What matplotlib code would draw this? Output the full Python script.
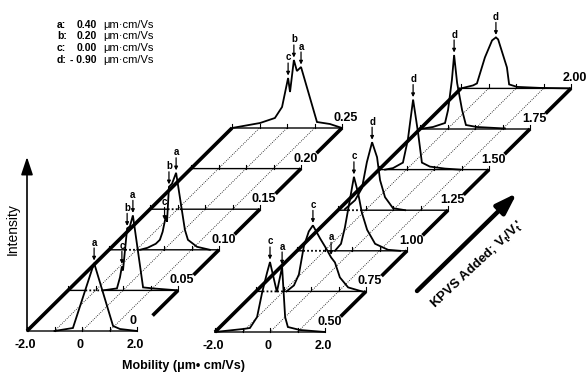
import numpy as np
import matplotlib
matplotlib.use("Agg")
import matplotlib.pyplot as plt
from matplotlib.patches import ArrowStyle

plt.rcParams['font.family'] = ['Liberation Sans', 'DejaVu Sans']
plt.rcParams['mathtext.fontset'] = 'custom'
plt.rcParams['mathtext.rm'] = 'Liberation Sans:bold'
plt.rcParams['mathtext.it'] = 'Liberation Sans:bold'
plt.rcParams['mathtext.bf'] = 'Liberation Sans:bold'

# ---------------- data ----------------
legend_ids = ["a:", "b:", "c:", "d:"]
legend_values = ["0.40", "0.20", "0.00", "- 0.90"]
legend_unit = "\u03bcm\u00b7cm/Vs"

tick_mobility = [-2.0, -1.0, 0.0, 1.0, 2.0]
label_mobility = [-2.0, 0.0, 2.0]
label_text = ["-2.0", "0", "2.0"]
grid_mobility = [-1.0, 0.0, 1.0]

left_ratios = ["0", "0.05", "0.10", "0.15", "0.20", "0.25"]
right_ratios = ["0.50", "0.75", "1.00", "1.25", "1.50", "1.75", "2.00"]

# electropherograms (mobility, intensity)
mob_000 = [-1.0, -0.33, 0.44, 1.13, 1.38, 2.0]
int_000 = [0, 3, 68, 5, 2, 0]
pk_000 = [("a", 0.44)]

mob_005 = [-0.73, -0.22, -0.11, -0.04, 0.00, 0.15, 0.25, 0.36, 0.73, 1.09, 2.0]
int_005 = [0, 2, 13, 24, 20, 62, 64, 75, 3, 2, 0]
pk_005 = [("c", -0.04), ("b", 0.15), ("a", 0.36)]

mob_010 = [-0.87, -0.6, -0.3, -0.15, -0.05, 0.07, 0.11, 0.18, 0.29, 0.44, 0.76, 0.87, 1.2, 1.67]
int_010 = [0, 2, 6, 10, 18, 34, 28, 63, 66, 77, 20, 10, 3, 0]
pk_010 = [("c", 0.02), ("b", 0.18), ("a", 0.44)]

mob_015 = []
int_015 = []
pk_015 = []

mob_020 = []
int_020 = []
pk_020 = []

mob_025 = [-2.0, -0.98, -0.44, -0.18, 0.04, 0.11, 0.25, 0.36, 0.51, 1.09, 1.56, 2.0]
int_025 = [0, 5, 10, 21, 50, 36, 68, 57, 61, 6, 4, 0]
pk_025 = [("c", 0.04), ("b", 0.25), ("a", 0.51)]

mob_050 = [-2.0, -0.98, -0.73, -0.47, -0.29, -0.11, 0.0, 0.25, 0.44, 0.55, 0.65, 1.09, 2.0]
int_050 = [0, 3, 4, 15, 39, 59, 70, 40, 65, 15, 5, 2, 0]
pk_050 = [("c", 0.0), ("a", 0.44)]

mob_075 = [-0.89, -0.62, -0.44, -0.26, -0.08, 0.07, 0.33, 0.55, 0.73, 0.87, 1.05, 1.35, 1.85]
int_075 = [0, 6, 17, 45, 60, 66, 53, 43, 34, 29, 14, 4, 0]
pk_075 = [("c", 0.07), ("a", 0.73)]

mob_100 = [-0.62, -0.40, -0.26, -0.11, 0.07, 0.22, 0.36, 0.55, 0.84, 1.31, 1.75]
int_100 = [0, 7, 23, 46, 74, 58, 38, 21, 7, 1, 0]
pk_100 = [("c", 0.07)]

mob_125 = [-1.75, -1.38, -1.13, -0.95, -0.76, -0.58, -0.47, -0.29, 0.0, 0.44]
int_125 = [1, 10, 22, 48, 68, 53, 30, 13, 2, 0]
pk_125 = [("d", -0.76)]

mob_150 = [-1.78, -1.49, -1.13, -0.95, -0.76, -0.58, -0.44, -0.15, 0.40, 0.95]
int_150 = [0, 1.5, 7, 30, 70, 37, 7, 3, 1, 0]
pk_150 = [("d", -0.76)]

mob_175 = [-2.0, -1.53, -1.09, -0.98, -0.84, -0.76, -0.65, -0.47, -0.33, 0.07, 1.09]
int_175 = [0, 2, 6, 19, 49, 74, 46, 19, 4, 2, 0.5]
pk_175 = [("d", -0.76)]

mob_200 = [-2.0, -1.56, -1.42, -1.13, -0.87, -0.73, -0.65, -0.33, -0.25, 0.04, 0.87, 2.0]
int_200 = [0, 3, 5, 31, 48, 51, 49, 21, 4, 1.5, 0.5, 0]
pk_200 = [("d", -0.73)]

left_traces = [(mob_000, int_000, pk_000), (mob_005, int_005, pk_005),
               (mob_010, int_010, pk_010), (mob_015, int_015, pk_015),
               (mob_020, int_020, pk_020), (mob_025, int_025, pk_025)]
right_traces = [(mob_050, int_050, pk_050), (mob_075, int_075, pk_075),
                (mob_100, int_100, pk_100), (mob_125, int_125, pk_125),
                (mob_150, int_150, pk_150), (mob_175, int_175, pk_175),
                (mob_200, int_200, pk_200)]

# ---------------- layout (pseudo-3D projection) ----------------
W, H = 587, 375
SX = 27.5            # px per mobility unit
DX, DY = 41.0, -40.6 # offset per trace
LEFT_O = (27.0, 331.0)
RIGHT_O = (215.0, 332.0)

fig = plt.figure(figsize=(W / 100, H / 100), dpi=100)
ax = fig.add_axes([0, 0, 1, 1])
ax.set_xlim(0, W)
ax.set_ylim(H, 0)
ax.axis('off')


def proj(origin, k, m, inten=0.0):
    m = np.asarray(m, float)
    inten = np.asarray(inten, float)
    x = origin[0] + (m + 2.0) * SX + k * DX
    y = origin[1] + k * DY - inten
    return x, y


def draw_panel(origin, traces, ratios):
    n = len(traces)
    for k in range(n):
        # baseline with hidden (dotted) parts
        x0, yb = proj(origin, k, -2.0)
        x1, _ = proj(origin, k, 2.0)
        xs = np.linspace(x0, x1, 1500)
        hidden = np.zeros_like(xs, bool)
        for j in range(k):
            mj, ij, _ = traces[j]
            if len(mj) == 0:
                continue
            xj, yj = proj(origin, j, mj, ij)
            yi = np.interp(xs, xj, yj, left=np.inf, right=np.inf)
            hidden |= yi < yb - 0.5
        ys = np.full_like(xs, yb)
        ax.plot(xs, np.where(hidden, np.nan, ys), color='black', lw=1.0,
                solid_capstyle='butt', zorder=2)
        if hidden.any():
            ax.plot(xs, np.where(hidden, ys, np.nan), color='black', lw=1.3,
                    linestyle=(0, (1, 1.2)), zorder=2)
        # ticks
        for tm in tick_mobility:
            tx, ty = proj(origin, k, tm)
            ax.plot([tx, tx], [ty, ty - 4], color='black', lw=0.8, zorder=2)
        # floor grid lines to next trace
        if k < n - 1:
            for gm in grid_mobility:
                ax0, ay0 = proj(origin, k, gm)
                ax1, ay1 = proj(origin, k + 1, gm)
                ax.plot([ax0, ax1], [ay0, ay1], color='black', lw=0.6,
                        linestyle=(0, (1, 1.6)), zorder=1)
            # right thick edge segment
            ex0, ey0 = proj(origin, k, 2.0)
            ex1, ey1 = proj(origin, k + 1, 2.0)
            t0 = 0.38
            ax.plot([ex0 + t0 * (ex1 - ex0), ex1], [ey0 + t0 * (ey1 - ey0), ey1],
                    color='black', lw=2.6, solid_capstyle='butt', zorder=3)
        # ratio label
        ex, ey = proj(origin, k, 2.0)
        ax.text(ex - 8, ey - 10, ratios[k], ha='left', va='center',
                fontsize=9, fontweight='bold', zorder=5)
        # trace
        m, inten, pks = traces[k]
        if len(m):
            tx, ty = proj(origin, k, m, inten)
            ax.plot(tx, ty, color='black', lw=1.3, solid_joinstyle='miter', zorder=4)
            for letter, pm in pks:
                pi = np.interp(pm, m, inten)
                px, py = proj(origin, k, pm, pi)
                ax.annotate('', xy=(px, py - 2.5), xytext=(px, py - 15),
                            arrowprops=dict(arrowstyle='-|>', lw=0.9, color='black',
                                            mutation_scale=5, shrinkA=0, shrinkB=0),
                            zorder=5)
                ax.text(px, py - 20.5, letter, ha='center', va='center',
                        fontsize=7, fontweight='bold', zorder=5)
    # left thick edge
    lx0, ly0 = proj(origin, 0, -2.0)
    lx1, ly1 = proj(origin, n - 1, -2.0)
    ax.plot([lx0, lx1], [ly0, ly1], color='black', lw=2.6,
            solid_capstyle='butt', zorder=3)
    # mobility tick labels
    for lm, lt in zip(label_mobility, label_text):
        x, y = proj(origin, 0, lm)
        ax.text(x - 2, y + 14, lt, ha='center', va='center', fontsize=9,
                fontweight='bold')


draw_panel(LEFT_O, left_traces, left_ratios)
draw_panel(RIGHT_O, right_traces, right_ratios)

# intensity axis arrow
ax.annotate('', xy=(LEFT_O[0], 157), xytext=(LEFT_O[0], LEFT_O[1]),
            arrowprops=dict(arrowstyle=ArrowStyle('-|>', head_length=0.9, head_width=0.3),
                            lw=1.2, color='black', mutation_scale=12,
                            shrinkA=0, shrinkB=0))
ax.text(13, 229, "Intensity", rotation=90, ha='center', va='center', fontsize=10)

ax.text(183, 366, "Mobility (\u03bcm\u2022 cm/Vs)", ha='center', va='center',
        fontsize=9, fontweight='bold')

# KPVS arrow
ax.annotate('', xy=(517, 193), xytext=(417, 291),
            arrowprops=dict(arrowstyle=ArrowStyle('-|>', head_length=0.9, head_width=0.3),
                            lw=3.2, color='black', mutation_scale=14,
                            shrinkA=0, shrinkB=0))
ax.text(477, 265, "KPVS Added; V$_\\mathregular{t}$/V$_\\mathregular{t}$'", rotation=43,
        rotation_mode='anchor', ha='center', va='center', fontsize=9.5,
        fontweight='bold')

# legend
rows_y = [24.5, 36, 48, 60]
for yy, lid, val in zip(rows_y, legend_ids, legend_values):
    ax.text(57, yy, lid, ha='left', va='center', fontsize=7.5, fontweight='bold')
    ax.text(97, yy, val, ha='right', va='center', fontsize=7.5, fontweight='bold')
    ax.text(103, yy, legend_unit, ha='left', va='center', fontsize=8)

fig.savefig("out.png", dpi=100)
